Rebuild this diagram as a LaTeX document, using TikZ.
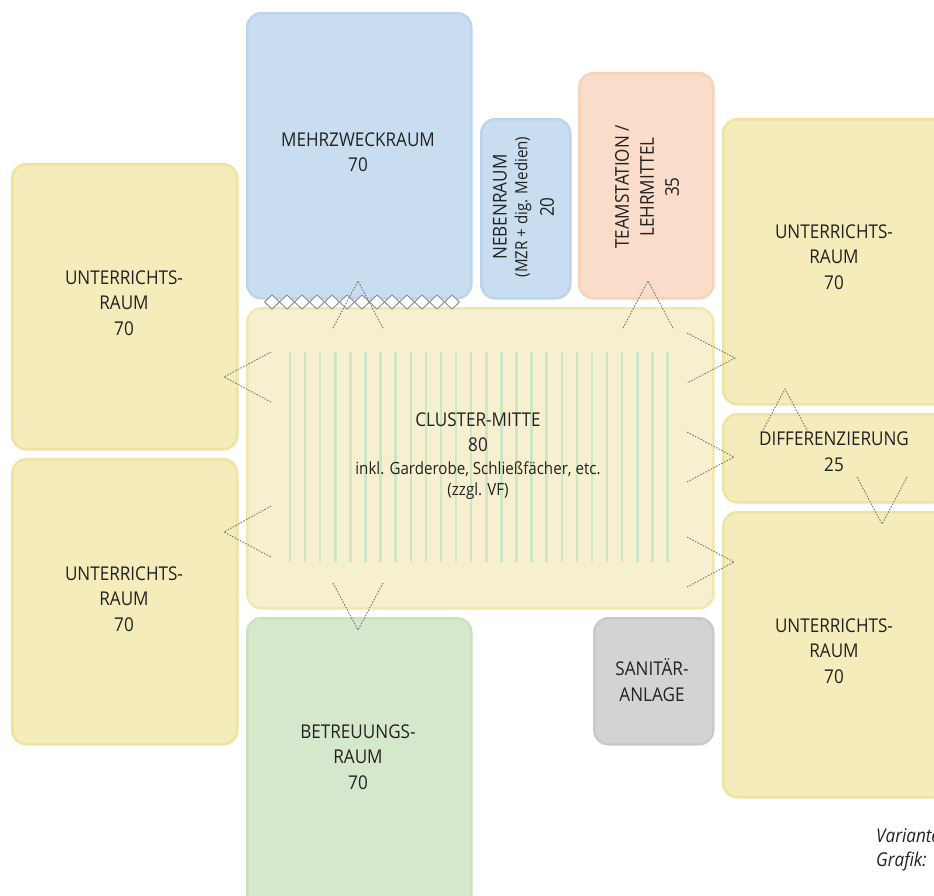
\documentclass[tikz,border=0pt]{standalone}
\usepackage{fontspec}
\setmainfont{Open Sans}[FakeStretch=0.9]
\definecolor{yfill}{HTML}{F4ECBA}
\definecolor{yline}{HTML}{F0E3A0}
\definecolor{cfill}{HTML}{F7F0D0}
\definecolor{cline}{HTML}{F2E7AE}
\definecolor{bfill}{HTML}{C9DDF0}
\definecolor{bline}{HTML}{BBD4EE}
\definecolor{pfill}{HTML}{F9DCC9}
\definecolor{pline}{HTML}{F7D3BC}
\definecolor{gfill}{HTML}{D6E8CC}
\definecolor{gline}{HTML}{C9E1BD}
\definecolor{sfill}{HTML}{D3D3D3}
\definecolor{sline}{HTML}{C9C9C9}
\definecolor{stripe}{HTML}{CDE6C6}
\definecolor{txt}{HTML}{222222}
\definecolor{door}{HTML}{777777}
\newcommand{\mainsz}{\fontsize{19}{25.3}\selectfont}
\newcommand{\smallsz}{\fontsize{16.8}{22}\selectfont}
\tikzset{
  room/.style={draw, line width=2.5pt, rounded corners=14pt,
    inner sep=0pt, anchor=north west},
  yel/.style={room, fill=yfill, draw=yline},
  clus/.style={room, fill=cfill, draw=cline},
  blu/.style={room, fill=bfill, draw=bline},
  pea/.style={room, fill=pfill, draw=pline},
  gre/.style={room, fill=gfill, draw=gline},
  gry/.style={room, fill=sfill, draw=sline},
  doorline/.style={draw=door, line width=0.9pt, dash pattern=on 1.6pt off 1.4pt},
  diam/.style={draw=door!80, fill=white, line width=1pt},
  lbl/.style={text=txt, inner sep=0pt, font=\mainsz},
  mlbl/.style={lbl, align=center}
}
\begin{document}
\begin{tikzpicture}[x=1pt,y=-1pt]
\useasboundingbox (0,0) rectangle (934,895);
\clip (0,0) rectangle (934,895);
% rooms
\node[yel, minimum width=225, minimum height=285] (urlt) at (11,163) {};
\node[yel, minimum width=225, minimum height=285] (urlb) at (11,458) {};
\node[blu, minimum width=224, minimum height=285] (mzr) at (246,12) {};
\node[blu, minimum width=89, minimum height=179] (neben) at (480,118) {};
\node[pea, minimum width=134, minimum height=225] (team) at (578,72) {};
\node[clus, minimum width=466, minimum height=300] (cluster) at (246,307) {};
\node[yel, minimum width=224, minimum height=285] (urrt) at (722,118) {};
\node[yel, minimum width=224, minimum height=88] (diff) at (722,413) {};
\node[yel, minimum width=224, minimum height=285] (urrb) at (722,511) {};
\node[gre, minimum width=224, minimum height=290] (betr) at (246,617) {};
\node[gry, minimum width=119, minimum height=126] (san) at (593,617) {};
% stripes
\foreach \i in {0,...,25} {
  \draw[stripe, line width=2.5pt] ({290+15.1*\i},352) -- ({290+15.1*\i},562);
}
% room labels
\node[mlbl] (urlt-t) at (124,303) {UNTERRICHTS-\\RAUM\\70};
\node[mlbl] (urlb-t) at (124,599) {UNTERRICHTS-\\RAUM\\70};
\node[mlbl] (urrt-t) at (834,257) {UNTERRICHTS-\\RAUM\\70};
\node[mlbl] (urrb-t) at (834,651) {UNTERRICHTS-\\RAUM\\70};
\node[mlbl] (mzr-t) at (358,152) {MEHRZWECKRAUM\\70};
\node[mlbl] (betr-t) at (358,757) {BETREUUNGS-\\RAUM\\70};
\node[mlbl] (san-t) at (652,680) {SANITÄR-\\ANLAGE};
\node[lbl] (c1) at (478,420) {CLUSTER-MITTE};
\node[lbl] (c2) at (478,445) {80};
\node[lbl, font=\smallsz] (c3) at (478,469) {inkl. Garderobe, Schließfächer, etc.};
\node[lbl, font=\smallsz] (c4) at (478,491) {(zzgl. VF)};
\node[lbl] (d1) at (834,439) {DIFFERENZIERUNG};
\node[lbl] (d2) at (834,465) {25};
\node[lbl, rotate=90] (n1) at (500,207) {NEBENRAUM};
\node[lbl, font=\smallsz, rotate=90] (n2) at (523,207) {(MZR + dig. Medien)};
\node[lbl, rotate=90] (n3) at (547,207) {20};
\node[lbl, rotate=90] (t1) at (622,187) {TEAMSTATION /};
\node[lbl, rotate=90] (t2) at (647,187) {LEHRMITTEL};
\node[lbl, rotate=90] (t3) at (672,187) {35};
% diamonds
\foreach \i in {0,...,12} {
  \draw[diam] ({272+15*\i-7.5},302) -- ({272+15*\i},295) -- ({272+15*\i+7.5},302) -- ({272+15*\i},309) -- cycle;
}
% doors
\draw[doorline] (333,328) -- (358,281) -- (383,328);
\draw[doorline] (623,328) -- (648,281) -- (673,328);
\draw[doorline] (687,333) -- (735,358) -- (687,383);
\draw[doorline] (687,432) -- (734,457) -- (687,482);
\draw[doorline] (687,537) -- (734,562) -- (687,587);
\draw[doorline] (762,432) -- (785,389) -- (808,432);
\draw[doorline] (857,477) -- (882,524) -- (907,477);
\draw[doorline] (271,352) -- (224,377) -- (271,402);
\draw[doorline] (271,506) -- (224,532) -- (271,557);
\draw[doorline] (333,583) -- (358,630) -- (383,583);
% note
\node[lbl, font=\mainsz\itshape, anchor=base west] (v1) at (876,842) {Variante};
\node[lbl, font=\mainsz\itshape, anchor=base west] (v2) at (876,866) {Grafik:};
\end{tikzpicture}
\end{document}
